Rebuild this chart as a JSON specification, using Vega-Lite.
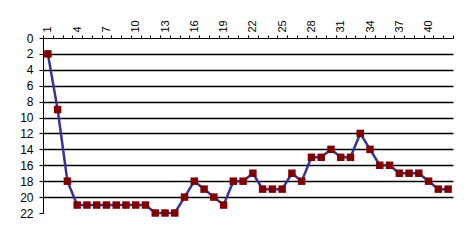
{
  "$schema": "https://vega.github.io/schema/vega-lite/v6.json",
  "width": 410,
  "height": 175,
  "autosize": {"type": "none"},
  "padding": {"left": 43, "top": 38, "right": 15, "bottom": 27},
  "background": "white",
  "config": {
    "view": {"stroke": null},
    "axis": {"labelFont": "Liberation Sans", "labelFontSize": 11, "labelColor": "black", "domainColor": "black", "tickColor": "black", "title": null}
  },
  "data": {"values": [
    {"n": 1, "v": 2}, {"n": 2, "v": 9}, {"n": 3, "v": 18}, {"n": 4, "v": 21},
    {"n": 5, "v": 21}, {"n": 6, "v": 21}, {"n": 7, "v": 21}, {"n": 8, "v": 21},
    {"n": 9, "v": 21}, {"n": 10, "v": 21}, {"n": 11, "v": 21}, {"n": 12, "v": 22},
    {"n": 13, "v": 22}, {"n": 14, "v": 22}, {"n": 15, "v": 20}, {"n": 16, "v": 18},
    {"n": 17, "v": 19}, {"n": 18, "v": 20}, {"n": 19, "v": 21}, {"n": 20, "v": 18},
    {"n": 21, "v": 18}, {"n": 22, "v": 17}, {"n": 23, "v": 19}, {"n": 24, "v": 19},
    {"n": 25, "v": 19}, {"n": 26, "v": 17}, {"n": 27, "v": 18}, {"n": 28, "v": 15},
    {"n": 29, "v": 15}, {"n": 30, "v": 14}, {"n": 31, "v": 15}, {"n": 32, "v": 15},
    {"n": 33, "v": 12}, {"n": 34, "v": 14}, {"n": 35, "v": 16}, {"n": 36, "v": 16},
    {"n": 37, "v": 17}, {"n": 38, "v": 17}, {"n": 39, "v": 17}, {"n": 40, "v": 18},
    {"n": 41, "v": 19}, {"n": 42, "v": 19}
  ]},
  "encoding": {
    "x": {
      "field": "n", "type": "quantitative",
      "scale": {"domain": [0.5, 42.5], "nice": false, "zero": false},
      "axis": {
        "orient": "top",
        "values": [0.5,1.5,2.5,3.5,4.5,5.5,6.5,7.5,8.5,9.5,10.5,11.5,12.5,13.5,14.5,15.5,16.5,17.5,18.5,19.5,20.5,21.5,22.5,23.5,24.5,25.5,26.5,27.5,28.5,29.5,30.5,31.5,32.5,33.5,34.5,35.5,36.5,37.5,38.5,39.5,40.5,41.5,42.5],
        "labelExpr": "(datum.value - 0.5) % 3 == 0 && datum.value < 42 ? toString(datum.value + 0.5) : ''",
        "labelOffset": 4.88,
        "labelAngle": 270,
        "labelOverlap": false,
        "labelFlush": false,
        "tickSize": 3,
        "labelPadding": 3,
        "grid": false
      }
    },
    "y": {
      "field": "v", "type": "quantitative",
      "scale": {"domain": [0, 22], "reverse": true, "nice": false},
      "axis": {
        "values": [0,2,4,6,8,10,12,14,16,18,20,22],
        "grid": true,
        "gridColor": "black",
        "gridWidth": 1.5,
        "gridOpacity": {"condition": {"test": "datum.value == 22 || datum.value == 0", "value": 0}, "value": 1},
        "tickSize": 4,
        "labelPadding": 6,
        "labelFontSize": 12
      }
    }
  },
  "layer": [
    {"mark": {"type": "line", "color": "#333399", "strokeWidth": 2.5}},
    {"mark": {"type": "point", "shape": "square", "filled": true, "color": "#800000", "size": 56, "opacity": 1}}
  ]
}
